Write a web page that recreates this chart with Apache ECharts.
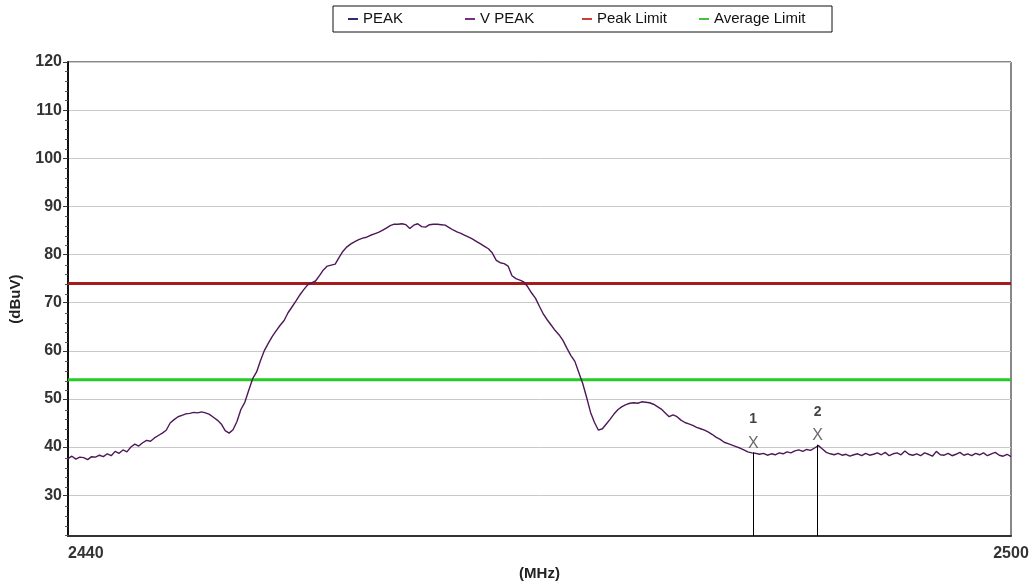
<!DOCTYPE html>
<html>
<head>
<meta charset="utf-8">
<title>Spectrum scan 2440-2500 MHz</title>
<script src="https://cdn.jsdelivr.net/npm/echarts@6/dist/echarts.min.js"></script>
<style>
  html, body { margin: 0; padding: 0; background: #fff; }
  #chart { width: 1032px; height: 586px; }
</style>
</head>
<body>
<div id="chart"></div>
<script>
// Sweep: 2440 to 2500 MHz, one reading every 0.25 MHz
const freqStart = 2440;
const freqStep = 0.25;
const vPeak = [
  37.6, 38.1, 37.5, 37.9,  37.8, 37.4, 38.0, 37.9,  38.3, 38.0, 38.6, 38.2,  39.1, 38.7, 39.4, 39.0,
  40.0, 40.6, 40.2, 40.9,  41.4, 41.2, 41.9, 42.4,  42.9, 43.5, 45.0, 45.7,  46.3, 46.6, 46.9, 47.0,
  47.2, 47.1, 47.3, 47.1,  46.8, 46.2, 45.6, 44.8,  43.4, 42.9, 43.6, 45.3,  47.8, 49.3, 51.8, 54.2,
  55.6, 58.0, 60.1, 61.6,  63.0, 64.2, 65.3, 66.3,  67.9, 69.1, 70.3, 71.6,  72.7, 73.7, 74.1, 74.5,
  75.6, 76.8, 77.6, 77.8,  78.0, 79.4, 80.7, 81.6,  82.2, 82.7, 83.1, 83.4,  83.6, 84.0, 84.3, 84.6,
  85.0, 85.5, 86.0, 86.3,  86.3, 86.4, 86.2, 85.4,  86.1, 86.4, 85.8, 85.7,  86.2, 86.3, 86.3, 86.2,
  86.1, 85.6, 85.1, 84.7,  84.4, 84.0, 83.6, 83.2,  82.7, 82.2, 81.7, 81.2,  80.3, 78.8, 78.3, 78.1,
  77.6, 75.6, 75.0, 74.7,  74.3, 73.3, 72.0, 70.9,  69.2, 67.6, 66.4, 65.3,  64.2, 63.3, 62.1, 60.5,
  59.0, 57.8, 55.5, 53.2,  50.3, 47.2, 45.1, 43.5,  43.8, 44.8, 45.8, 46.9,  47.8, 48.4, 48.8, 49.1,
  49.2, 49.1, 49.4, 49.3,  49.2, 48.9, 48.4, 47.9,  47.1, 46.3, 46.7, 46.3,  45.6, 45.1, 44.8, 44.5,
  44.1, 43.8, 43.5, 43.1,  42.6, 42.0, 41.6, 41.0,  40.7, 40.4, 40.1, 39.8,  39.4, 39.0, 38.8, 38.7,
  38.5, 38.7, 38.3, 38.6,  38.4, 38.8, 38.6, 39.0,  38.8, 39.2, 39.4, 39.1,  39.5, 39.3, 39.8, 40.3,
  39.6, 38.9, 38.6, 38.4,  38.7, 38.3, 38.5, 38.1,  38.4, 38.6, 38.2, 38.7,  38.3, 38.5, 38.8, 38.4,
  38.9, 38.2, 38.6, 38.8,  38.4, 39.2, 38.5, 38.3,  38.6, 38.2, 38.8, 38.5,  38.1, 39.1, 38.4, 38.3,
  38.7, 38.2, 38.5, 38.9,  38.3, 38.6, 38.2, 38.7,  38.4, 38.8, 38.2, 38.6,  38.9, 38.3, 38.1, 38.5,
  38.0
];
const peakTrace = [];            // PEAK trace: listed in the legend only
const peakLimit = 74;            // dBuV
const averageLimit = 54;         // dBuV

// Marker readouts
const markerIds = ['1', '2'];
const markerFreq = [2483.6, 2487.7];
const markerLevel = [38.9, 40.5];

// Axes
const xMin = 2440, xMax = 2500;
const xTickLabels = [2440, 2500];
const yMin = 21.5, yMax = 120;
const yMajorTicks = [30, 40, 50, 60, 70, 80, 90, 100, 110, 120];
const yMinorTicks = [];
for (let v = 22; v < yMax; v += 2) if (v % 10 !== 0) yMinorTicks.push(v);

const legendNames = ['PEAK', 'V PEAK', 'Peak Limit', 'Average Limit'];

const sweep = vPeak.map((v, i) => [freqStart + i * freqStep, v]);
const font = 'Liberation Sans, Arial, sans-serif';

const gridBox = { left: 68, right: 21, top: 62, bottom: 48 };

const chart = echarts.init(document.getElementById('chart'), null, { renderer: 'canvas' });
chart.setOption({
  backgroundColor: '#ffffff',
  animation: false,
  legend: {
    data: legendNames,
    left: 333,
    top: 6,
    orient: 'horizontal',
    icon: 'rect',
    itemWidth: 10,
    itemHeight: 2,
    itemGap: 5,
    padding: [5, 21, 5, 15],
    borderColor: '#111',
    borderWidth: 1,
    selectedMode: false,
    textStyle: { fontFamily: font, fontSize: 15, color: '#111', width: 97, lineHeight: 16 }
  },
  grid: [
    Object.assign({ show: true, borderColor: '#111', borderWidth: 1, backgroundColor: '#fff' }, gridBox),
    Object.assign({ show: false }, gridBox)
  ],
  xAxis: [
    {
      type: 'value', gridIndex: 0, min: xMin, max: xMax,
      name: '(MHz)', nameLocation: 'middle', nameGap: 27,
      nameTextStyle: { fontFamily: font, fontSize: 15, fontWeight: 'bold', color: '#222' },
      axisLine: { show: true, onZero: false, lineStyle: { color: '#333', width: 2 } },
      axisTick: { show: false },
      splitLine: { show: false },
      axisLabel: {
        customValues: xTickLabels, margin: 9,
        formatter: v => String(v),
        alignMinLabel: 'left', alignMaxLabel: 'center',
        fontFamily: font, fontSize: 16, fontWeight: 'bold', color: '#333'
      }
    },
    { type: 'value', gridIndex: 1, min: xMin, max: xMax, show: false }
  ],
  yAxis: [
    {
      type: 'value', gridIndex: 0, min: yMin, max: yMax, splitNumber: 10,
      name: '(dBuV)', nameLocation: 'middle', nameGap: 45, nameRotate: 90,
      nameTextStyle: { fontFamily: font, fontSize: 15, fontWeight: 'bold', color: '#222' },
      axisLine: { show: true, onZero: false, lineStyle: { color: '#111', width: 2 } },
      axisTick: { show: true, customValues: yMajorTicks, length: 5, lineStyle: { color: '#333', width: 1 } },
      axisLabel: {
        customValues: yMajorTicks, margin: 6,
        formatter: v => String(v),
        fontFamily: font, fontSize: 16, fontWeight: 'bold', color: '#333'
      },
      splitLine: { show: true, lineStyle: { color: '#c9c9c9', width: 1 } }
    },
    {
      type: 'value', gridIndex: 1, min: yMin, max: yMax,
      axisLine: { show: false },
      axisLabel: { show: false },
      splitLine: { show: false },
      axisTick: { show: true, customValues: yMinorTicks, length: 3, lineStyle: { color: '#555', width: 1 } }
    }
  ],
  series: [
    {
      name: 'PEAK', type: 'line', data: peakTrace, showSymbol: false,
      itemStyle: { color: '#2b2b7c' }, lineStyle: { color: '#2b2b7c', width: 1.5 }
    },
    {
      name: 'V PEAK', type: 'line', data: sweep, showSymbol: false, z: 4,
      itemStyle: { color: '#7b2d86' }, lineStyle: { color: '#4e1858', width: 1.4 }
    },
    {
      name: 'Peak Limit', type: 'line', showSymbol: false, z: 3,
      data: [[xMin, peakLimit], [xMax, peakLimit]],
      itemStyle: { color: '#c9403a' }, lineStyle: { color: '#a61c1c', width: 3 }
    },
    {
      name: 'Average Limit', type: 'line', showSymbol: false, z: 3,
      data: [[xMin, averageLimit], [xMax, averageLimit]],
      itemStyle: { color: '#3fc43f' }, lineStyle: { color: '#22cc22', width: 3 }
    },
    {
      name: 'Markers', type: 'scatter', z: 6, symbolSize: 0,
      data: markerFreq.map((f, i) => ({ value: [f, markerLevel[i]], id: markerIds[i] })),
      label: {
        show: true, position: 'top', distance: 0,
        formatter: p => '{n|' + markerIds[p.dataIndex] + '}\n{x|X}',
        rich: {
          n: { fontFamily: font, fontSize: 14, fontWeight: 'bold', color: '#111', lineHeight: 30 },
          x: { fontFamily: font, fontSize: 16, color: '#444', lineHeight: 18 }
        }
      },
      markLine: {
        silent: true, symbol: 'none', label: { show: false },
        lineStyle: { color: '#000', width: 1, type: 'solid' },
        data: markerFreq.map((f, i) => [{ coord: [f, yMin] }, { coord: [f, markerLevel[i]] }])
      }
    }
  ]
});
</script>
</body>
</html>
